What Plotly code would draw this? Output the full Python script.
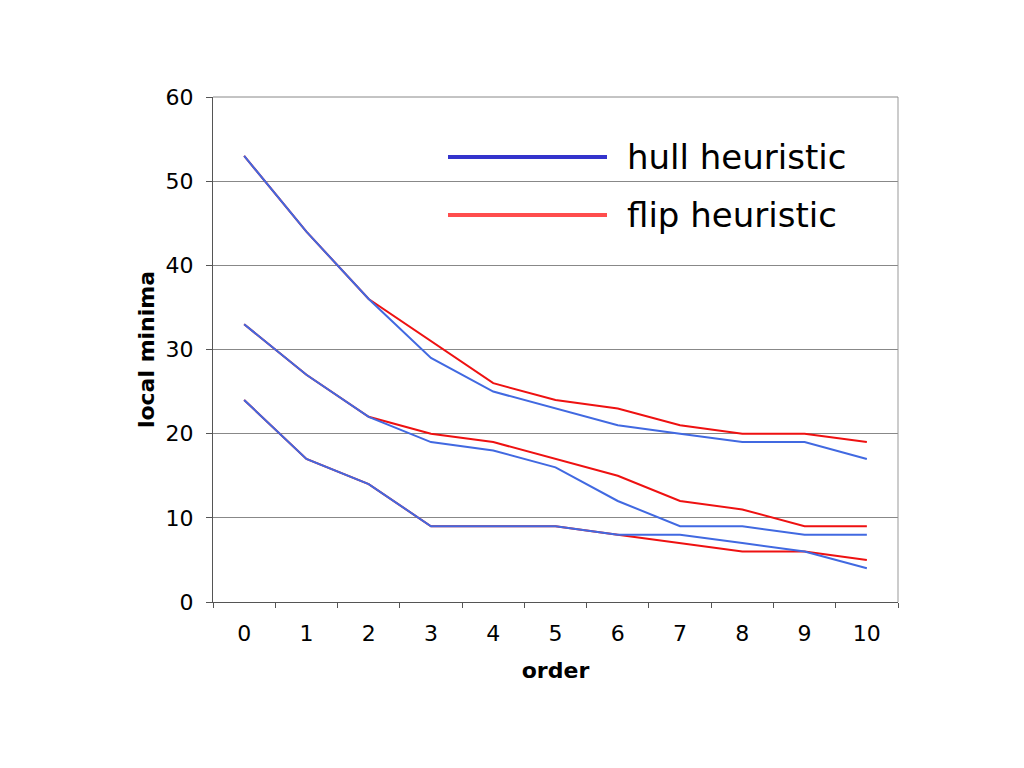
import plotly.graph_objects as go

orders = ["0", "1", "2", "3", "4", "5", "6", "7", "8", "9", "10"]

hull_top = [53, 44, 36, 29, 25, 23, 21, 20, 19, 19, 17]
hull_mid = [33, 27, 22, 19, 18, 16, 12, 9, 9, 8, 8]
hull_low = [24, 17, 14, 9, 9, 9, 8, 8, 7, 6, 4]

flip_top = [53, 44, 36, 31, 26, 24, 23, 21, 20, 20, 19]
flip_mid = [33, 27, 22, 20, 19, 17, 15, 12, 11, 9, 9]
flip_low = [24, 17, 14, 9, 9, 9, 8, 7, 6, 6, 5]

legend_labels = ["hull heuristic", "flip heuristic"]

BLUE = "#4169e1"
RED = "#ee1111"
FONT = "DejaVu Sans"

# page has an 8px body margin; work in page pixels and offset
OFF = 8
FW, FH = 1024 - OFF, 768 - OFF
L, R, T, B = 213 - OFF, 898 - OFF, 97 - OFF, 602 - OFF
W, H = R - L, B - T

fig = go.Figure()
for ys in [flip_top, flip_mid, flip_low]:
    fig.add_trace(go.Scatter(x=orders, y=ys, mode="lines",
                             line=dict(color=RED, width=2), showlegend=False,
                             name=legend_labels[1]))
for ys in [hull_top, hull_mid, hull_low]:
    fig.add_trace(go.Scatter(x=orders, y=ys, mode="lines",
                             line=dict(color=BLUE, width=2), showlegend=False,
                             name=legend_labels[0]))

# manual legend
leg = [(legend_labels[0], "#3333cc", 157), (legend_labels[1], "#ff4d4d", 215)]
for text, col, ypix in leg:
    yp = (B - (ypix - OFF)) / H
    fig.add_shape(type="line", xref="paper", yref="paper",
                  x0=(448 - OFF - L) / W, x1=(607 - OFF - L) / W, y0=yp, y1=yp,
                  line=dict(color=col, width=4))
    fig.add_annotation(xref="paper", yref="paper", x=(625 - OFF - L) / W, y=yp,
                       text=text, showarrow=False, xanchor="left", yanchor="middle",
                       font=dict(family=FONT, size=34, color="#000000"))

fig.update_layout(
    width=FW, height=FH,
    margin=dict(l=L, r=FW - R, t=T, b=FH - B),
    paper_bgcolor="white", plot_bgcolor="white",
    font=dict(family=FONT, size=22, color="#000000"),
    showlegend=False,
)
fig.update_xaxes(
    type="category", tickson="boundaries", ticks="outside", ticklen=5,
    tickcolor="#555555", showgrid=False, showline=True, linecolor="#555555",
    linewidth=1, mirror=False, ticklabelstandoff=12,
    tickfont=dict(family=FONT, size=22),
    title=dict(text="<b>order</b>", font=dict(family=FONT, size=22), standoff=17),
    range=[-0.5, 10.5],
)
fig.update_yaxes(
    range=[0, 60], tickvals=[0, 10, 20, 30, 40, 50, 60], ticks="outside",
    ticklen=6, tickcolor="#555555", showgrid=True, gridcolor="#888888",
    gridwidth=1, showline=True, linecolor="#555555", linewidth=1,
    mirror=False, zeroline=False, ticklabelstandoff=8,
    tickfont=dict(family=FONT, size=22),
    title=dict(text="<b>local minima</b>", font=dict(family=FONT, size=22), standoff=4),
)
# top and right frame border
fig.add_shape(type="line", xref="paper", yref="paper", x0=1, x1=1, y0=0, y1=1,
              line=dict(color="#999999", width=1))
fig.add_shape(type="line", xref="paper", yref="paper", x0=0, x1=1, y0=1, y1=1,
              line=dict(color="#888888", width=1))

fig.write_html("out.html")
